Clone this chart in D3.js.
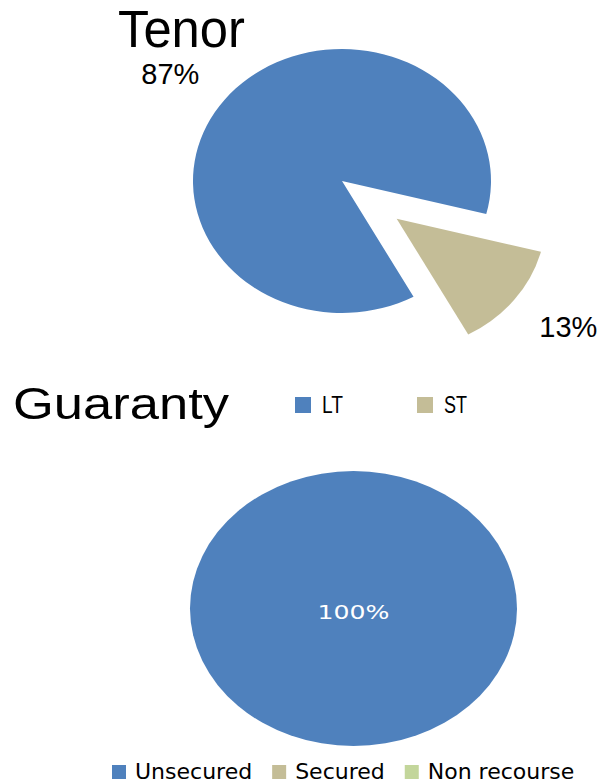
<!DOCTYPE html>
<html>
<head>
<meta charset="utf-8">
<script src="https://cdn.jsdelivr.net/npm/d3@7"></script>
<style>
  body { margin: 0; background: #fff; }
  svg { display: block; }
  .title { font-family: "Liberation Sans", Arial, sans-serif; fill: #000; }
  .pct { font-family: "Liberation Sans", Arial, sans-serif; fill: #000; text-anchor: middle; }
  .legend { font-family: "DejaVu Sans", sans-serif; fill: #000; }
</style>
</head>
<body>
<div id="chart"></div>
<script>
// data
var tenorCategories = ["LT", "ST"];
var tenorValues = [87, 13];
var guarantyCategories = ["Unsecured", "Secured", "Non recourse"];
var guarantyValues = [100, 0, 0];

var palette = ["#4F81BD", "#C4BD97", "#C3D69B"];
var color = d3.scaleOrdinal().domain([0, 1, 2]).range(palette);

var svg = d3.select("#chart").append("svg")
  .attr("width", 602).attr("height", 783);

function pctText(d, total) {
  return Math.round(d.value / total * 100) + "%";
}

// draws an elliptical pie: arcs drawn as a circle of radius rx, squashed to ry
function drawPie(cfg) {
  var total = d3.sum(cfg.values);
  var pie = d3.pie().sort(null)
    .startAngle(cfg.rotate).endAngle(cfg.rotate + 2 * Math.PI);
  var arcs = pie(cfg.values);
  var arc = d3.arc().innerRadius(0).outerRadius(cfg.rx);
  var k = cfg.ry / cfg.rx;

  var g = svg.append("g")
    .attr("transform", "translate(" + cfg.cx + "," + cfg.cy + ") scale(1," + k + ")");

  function offset(d, i) {
    var e = cfg.explode[i] || 0;
    var mid = (d.startAngle + d.endAngle) / 2;
    return [e * cfg.rx * Math.sin(mid), -e * cfg.rx * Math.cos(mid)];
  }

  g.selectAll("path").data(arcs).enter().append("path")
    .attr("d", arc)
    .attr("fill", function(d, i) { return color(i); })
    .attr("transform", function(d, i) {
      var o = offset(d, i);
      return "translate(" + o[0] + "," + o[1] + ")";
    });

  // labels in unscaled space
  svg.append("g").selectAll("text")
    .data(arcs.filter(function(d) { return d.value > 0; }))
    .enter().append("text")
    .attr("class", "pct")
    .attr("x", function(d) {
      if (d.endAngle - d.startAngle > 2 * Math.PI - 1e-6) return cfg.cx;
      var i = d.index, o = offset(d, i), mid = (d.startAngle + d.endAngle) / 2;
      return cfg.cx + o[0] + cfg.labelRx * cfg.rx * Math.sin(mid);
    })
    .attr("y", function(d) {
      if (d.endAngle - d.startAngle > 2 * Math.PI - 1e-6) return cfg.cy + 3;
      var i = d.index, o = offset(d, i), mid = (d.startAngle + d.endAngle) / 2;
      return cfg.cy + o[1] * k - cfg.labelRy * cfg.ry * Math.cos(mid);
    })
    .attr("dy", "0.36em")
    .style("font-size", cfg.labelSize + "px")
    .style("font-family", cfg.labelFont)
    .style("fill", cfg.labelColor)
    .attr("textLength", cfg.labelLength)
    .attr("lengthAdjust", "spacingAndGlyphs")
    .text(function(d) { return pctText(d, total); });
}

// ---- Tenor ----
svg.append("text").attr("class", "title")
  .attr("x", 118).attr("y", 47)
  .style("font-size", "51px")
  .attr("textLength", 127).attr("lengthAdjust", "spacingAndGlyphs")
  .text("Tenor");

drawPie({
  values: tenorValues,
  cx: 342, cy: 181, rx: 149, ry: 132,
  rotate: 151.3 * Math.PI / 180,
  explode: [0, 0.465],
  labelRx: 1.46, labelRy: 1.33,
  labelSize: 29, labelColor: "#000", labelFont: null
});

// legend LT / ST
var legTop = svg.append("g").selectAll("g")
  .data(tenorCategories).enter().append("g")
  .attr("transform", function(d, i) { return "translate(" + (295 + i * 122) + ",397)"; });
legTop.append("rect").attr("width", 16).attr("height", 16)
  .attr("fill", function(d, i) { return color(i); });
legTop.append("text").attr("class", "title")
  .attr("x", 27).attr("y", 16)
  .style("font-size", "24px")
  .attr("textLength", function(d) { return d === "LT" ? 21 : 23; })
  .attr("lengthAdjust", "spacingAndGlyphs")
  .text(function(d) { return d; });

// ---- Guaranty ----
svg.append("text").attr("class", "title")
  .attr("x", 13).attr("y", 419)
  .style("font-size", "44px")
  .attr("textLength", 216).attr("lengthAdjust", "spacingAndGlyphs")
  .text("Guaranty");

drawPie({
  values: guarantyValues,
  cx: 353.5, cy: 608.5, rx: 163.5, ry: 137.5,
  rotate: 0,
  explode: [0, 0, 0],
  labelRx: 0.5, labelRy: 0.5,
  labelSize: 20, labelColor: "#fff", labelFont: "DejaVu Sans", labelLength: 72
});

// bottom legend, laid out one after another
var legX = 112;
var legBottom = svg.append("g");
guarantyCategories.forEach(function(c, i) {
  var item = legBottom.append("g").attr("transform", "translate(" + legX + ",765)");
  item.append("rect").attr("width", 14).attr("height", 14).attr("fill", color(i));
  var t = item.append("text").attr("class", "legend")
    .attr("x", 23).attr("y", 14)
    .style("font-size", "22px")
    .text(c);
  legX += 23 + t.node().getComputedTextLength() + 20;
});
</script>
</body>
</html>
